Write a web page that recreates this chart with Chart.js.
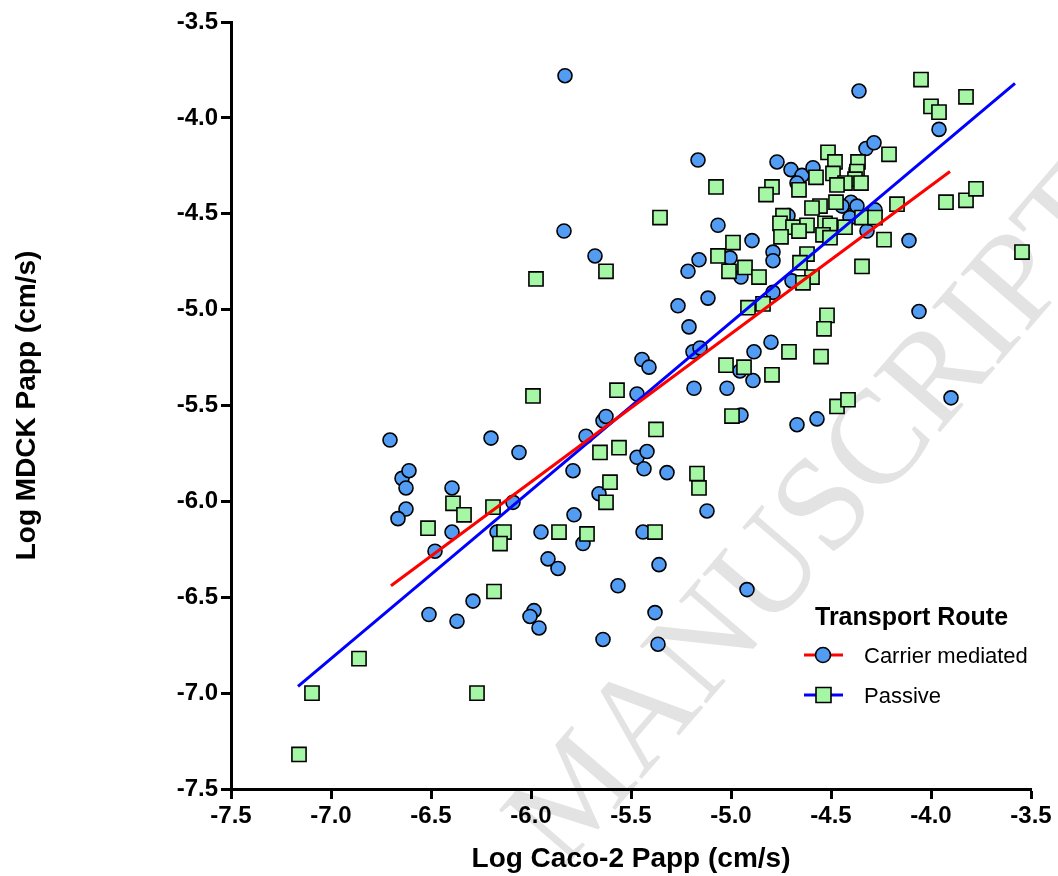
<!DOCTYPE html>
<html>
<head>
<meta charset="utf-8">
<script src="https://cdn.jsdelivr.net/npm/chart.js@4.4.1/dist/chart.umd.min.js"></script>
<style>
  html, body { margin: 0; padding: 0; background: #fff; }
  #wrap { width: 1058px; height: 876px; }
</style>
</head>
<body>
<div id="wrap"><canvas id="chart" width="1058" height="876"></canvas></div>
<script>
// Log Caco-2 Papp (x) vs Log MDCK Papp (y)
const carrierX = [-5.83, -5.835, -5.68, -6.705, -6.645, -6.61, -6.625, -6.625, -6.665, -6.395,
  -6.395, -6.48, -6.20, -6.06, -6.09, -6.17, -5.79, -5.725, -5.64, -5.625,
  -5.785, -5.95, -5.74, -5.66, -5.915, -5.865, -5.565, -6.51, -6.37, -6.29,
  -5.985, -6.005, -5.96, -5.64, -5.47, -5.42, -5.435, -5.44, -5.32, -5.12,
  -5.36, -4.92, -5.38, -5.365, -4.95, -4.67, -4.57, -3.90, -5.47, -5.445,
  -5.41, -5.21, -5.19, -5.155, -5.185, -5.02, -4.885, -4.80, -4.955, -4.89,
  -5.265, -5.115, -4.95, -4.79, -4.695, -5.215, -5.16, -5.005, -4.79, -4.79,
  -4.895, -5.065, -5.165, -4.77, -4.70, -4.645, -4.59, -4.67, -4.325, -4.285,
  -3.96, -4.36, -4.40, -4.37, -4.445, -4.28, -4.405, -4.32, -4.11, -4.06,
  -4.715, -4.375];
const carrierY = [-3.78, -4.59, -4.72, -5.68, -5.88, -5.84, -5.93, -6.04, -6.09, -5.93,
  -6.16, -6.26, -5.67, -5.745, -6.005, -6.16, -5.84, -5.66, -5.58, -5.557,
  -6.07, -6.16, -6.22, -5.96, -6.30, -6.35, -6.44, -6.59, -6.625, -6.52,
  -6.57, -6.60, -6.66, -6.72, -5.77, -5.74, -5.83, -6.16, -5.85, -6.05,
  -6.33, -6.46, -6.58, -6.745, -5.55, -5.60, -5.57, -5.46, -5.44, -5.26,
  -5.30, -5.09, -5.22, -5.20, -5.41, -5.41, -5.22, -5.17, -5.32, -5.37,
  -4.98, -4.94, -4.83, -4.91, -4.85, -4.80, -4.74, -4.73, -4.70, -4.745,
  -4.64, -4.56, -4.22, -4.23, -4.27, -4.30, -4.26, -4.34, -4.16, -4.13,
  -4.06, -3.86, -4.44, -4.46, -4.46, -4.48, -4.52, -4.59, -4.64, -5.01,
  -4.51, -4.27];

const passiveX = [-5.99, -6.39, -6.335, -6.19, -6.515, -6.135, -6.155, -5.86, -5.72, -5.655,
  -5.56, -5.605, -5.625, -6.185, -6.86, -7.095, -6.27, -7.16, -4.995, -5.375,
  -5.17, -5.16, -5.38, -4.47, -4.415, -5.57, -5.025, -4.935, -4.71, -4.795,
  -4.915, -4.84, -4.52, -4.535, -4.99, -5.065, -4.93, -5.01, -4.86, -4.62,
  -4.655, -4.595, -4.64, -5.355, -5.075, -4.05, -3.825, -4.00, -3.96, -4.21,
  -4.515, -4.48, -4.365, -4.49, -4.37, -4.575, -4.38, -4.43, -4.35, -4.47,
  -4.795, -4.825, -4.66, -4.475, -4.555, -4.595, -4.17, -4.74, -4.755, -4.69,
  -4.62, -4.53, -4.505, -4.345, -4.28, -4.66, -4.75, -4.54, -4.505, -4.235,
  -4.43, -3.925, -3.825, -3.775, -3.545, -4.345, -4.55, -5.625, -5.975];
const passiveY = [-5.45, -6.01, -6.07, -6.03, -6.14, -6.16, -6.22, -6.16, -6.17, -5.745,
  -5.72, -5.90, -6.005, -6.47, -6.82, -7.00, -7.00, -7.32, -5.555, -5.625,
  -5.855, -5.93, -6.16, -5.505, -5.47, -5.42, -5.29, -5.30, -5.22, -5.34,
  -4.99, -4.97, -5.03, -5.10, -4.65, -4.72, -4.78, -4.80, -4.83, -4.71,
  -4.755, -4.83, -4.86, -4.52, -4.36, -3.80, -3.89, -3.94, -3.97, -4.19,
  -4.18, -4.23, -4.23, -4.29, -4.28, -4.31, -4.32, -4.34, -4.34, -4.35,
  -4.36, -4.40, -4.375, -4.44, -4.46, -4.47, -4.45, -4.51, -4.55, -4.57,
  -4.56, -4.55, -4.56, -4.52, -4.52, -4.59, -4.62, -4.61, -4.625, -4.635,
  -4.57, -4.44, -4.43, -4.37, -4.70, -4.775, -5.245, -4.80, -4.84];

// linear fits (end points)
const carrierFitX = [-6.70, -3.905];
const carrierFitY = [-6.44, -4.28];
const passiveFitX = [-7.165, -3.58];
const passiveFitY = [-6.965, -3.82];

const tickValues = [-7.5, -7.0, -6.5, -6.0, -5.5, -5.0, -4.5, -4.0, -3.5];
const seriesNames = ['Carrier mediated', 'Passive'];
const legendTitle = 'Transport Route';
const xTitle = 'Log Caco-2 Papp (cm/s)';
const yTitle = 'Log MDCK Papp (cm/s)';
const watermark = 'MANUSCRIPT';

const BLUE_FILL = '#529cf3';
const GREEN_FILL = '#a5f7a5';
const FONT = '"Liberation Sans", Arial, sans-serif';

function pts(xs, ys) {
  return xs.map((x, i) => ({ x: x, y: ys[i] }));
}

const watermarkPlugin = {
  id: 'watermark',
  beforeDraw(chart) {
    const ctx = chart.ctx;
    ctx.save();
    ctx.fillStyle = '#fff';
    ctx.fillRect(0, 0, chart.width, chart.height);
    // faint diagonal word behind the plot
    ctx.fillStyle = '#e3e3e3';
    ctx.font = '134px "Liberation Serif", "Times New Roman", serif';
    ctx.textBaseline = 'middle';
    ctx.translate(818, 520);
    ctx.rotate(-0.86);
    ctx.textAlign = 'center';
    ctx.fillText(watermark, 0, 0);
    ctx.restore();
  }
};

const legendPlugin = {
  id: 'routeLegend',
  afterDraw(chart) {
    const ctx = chart.ctx;
    ctx.save();
    ctx.fillStyle = '#000';
    ctx.textBaseline = 'alphabetic';
    ctx.font = 'bold 25px ' + FONT;
    ctx.fillText(legendTitle, 815, 625);
    const rows = [
      { y: 655, line: '#ff0000', fill: BLUE_FILL, shape: 'circle' },
      { y: 695, line: '#0000ff', fill: GREEN_FILL, shape: 'rect' }
    ];
    rows.forEach((row, i) => {
      ctx.strokeStyle = row.line;
      ctx.lineWidth = 3;
      ctx.beginPath();
      ctx.moveTo(804, row.y);
      ctx.lineTo(843, row.y);
      ctx.stroke();
      ctx.fillStyle = row.fill;
      ctx.strokeStyle = '#000';
      ctx.lineWidth = 1.6;
      ctx.beginPath();
      if (row.shape === 'circle') ctx.arc(823, row.y, 7.5, 0, Math.PI * 2);
      else ctx.rect(816, row.y - 7.5, 15, 15);
      ctx.fill();
      ctx.stroke();
      ctx.fillStyle = '#000';
      ctx.font = '22px ' + FONT;
      ctx.fillText(seriesNames[i], 864, row.y + 8);
    });
    ctx.restore();
  }
};

function axisOpts(title, isX) {
  return {
    type: 'linear',
    min: -7.5,
    max: -3.5,
    afterBuildTicks: (scale) => { scale.ticks = tickValues.map(v => ({ value: v })); },
    afterFit: (scale) => {
      if (isX) {
        scale.height = 87;
        scale.paddingLeft = 0;
        scale.paddingRight = 0;
      } else {
        scale.width = 231;
        scale.paddingTop = 0;
        scale.paddingBottom = 0;
      }
    },
    ticks: {
      color: '#000',
      padding: 3,
      maxRotation: 0,
      autoSkip: false,
      font: { family: FONT, size: 24, weight: 'bold' },
      callback: (v) => Number(v).toFixed(1)
    },
    grid: {
      drawOnChartArea: false,
      drawTicks: true,
      tickLength: 10,
      tickWidth: 3,
      tickColor: '#000'
    },
    border: { display: true, color: '#000', width: 3 },
    title: {
      display: true,
      text: title,
      color: '#000',
      font: { family: FONT, size: 28, weight: 'bold' },
      padding: isX ? { top: 0, bottom: 0 } : { top: 10, bottom: 0 }
    }
  };
}

new Chart(document.getElementById('chart'), {
  type: 'scatter',
  data: {
    datasets: [
      {
        label: seriesNames[0] + ' fit',
        data: pts(carrierFitX, carrierFitY),
        showLine: true,
        borderColor: '#ff0000',
        borderWidth: 3,
        pointRadius: 0,
        order: 0
      },
      {
        label: seriesNames[1] + ' fit',
        data: pts(passiveFitX, passiveFitY),
        showLine: true,
        borderColor: '#0000ff',
        borderWidth: 3,
        pointRadius: 0,
        order: 0
      },
      {
        label: seriesNames[1],
        data: pts(passiveX, passiveY),
        pointStyle: 'rect',
        pointRadius: 10,
        backgroundColor: GREEN_FILL,
        borderColor: '#000',
        borderWidth: 1.6,
        order: 1
      },
      {
        label: seriesNames[0],
        data: pts(carrierX, carrierY),
        pointStyle: 'circle',
        pointRadius: 7,
        backgroundColor: BLUE_FILL,
        borderColor: '#000',
        borderWidth: 1.6,
        order: 2
      }
    ]
  },
  options: {
    responsive: false,
    animation: false,
    layout: { padding: { top: 22, right: 27, left: 0, bottom: 0 } },
    plugins: {
      legend: { display: false },
      tooltip: { enabled: false },
      title: { display: false }
    },
    scales: {
      x: axisOpts(xTitle, true),
      y: axisOpts(yTitle, false)
    }
  },
  plugins: [watermarkPlugin, legendPlugin]
});
</script>
</body>
</html>
